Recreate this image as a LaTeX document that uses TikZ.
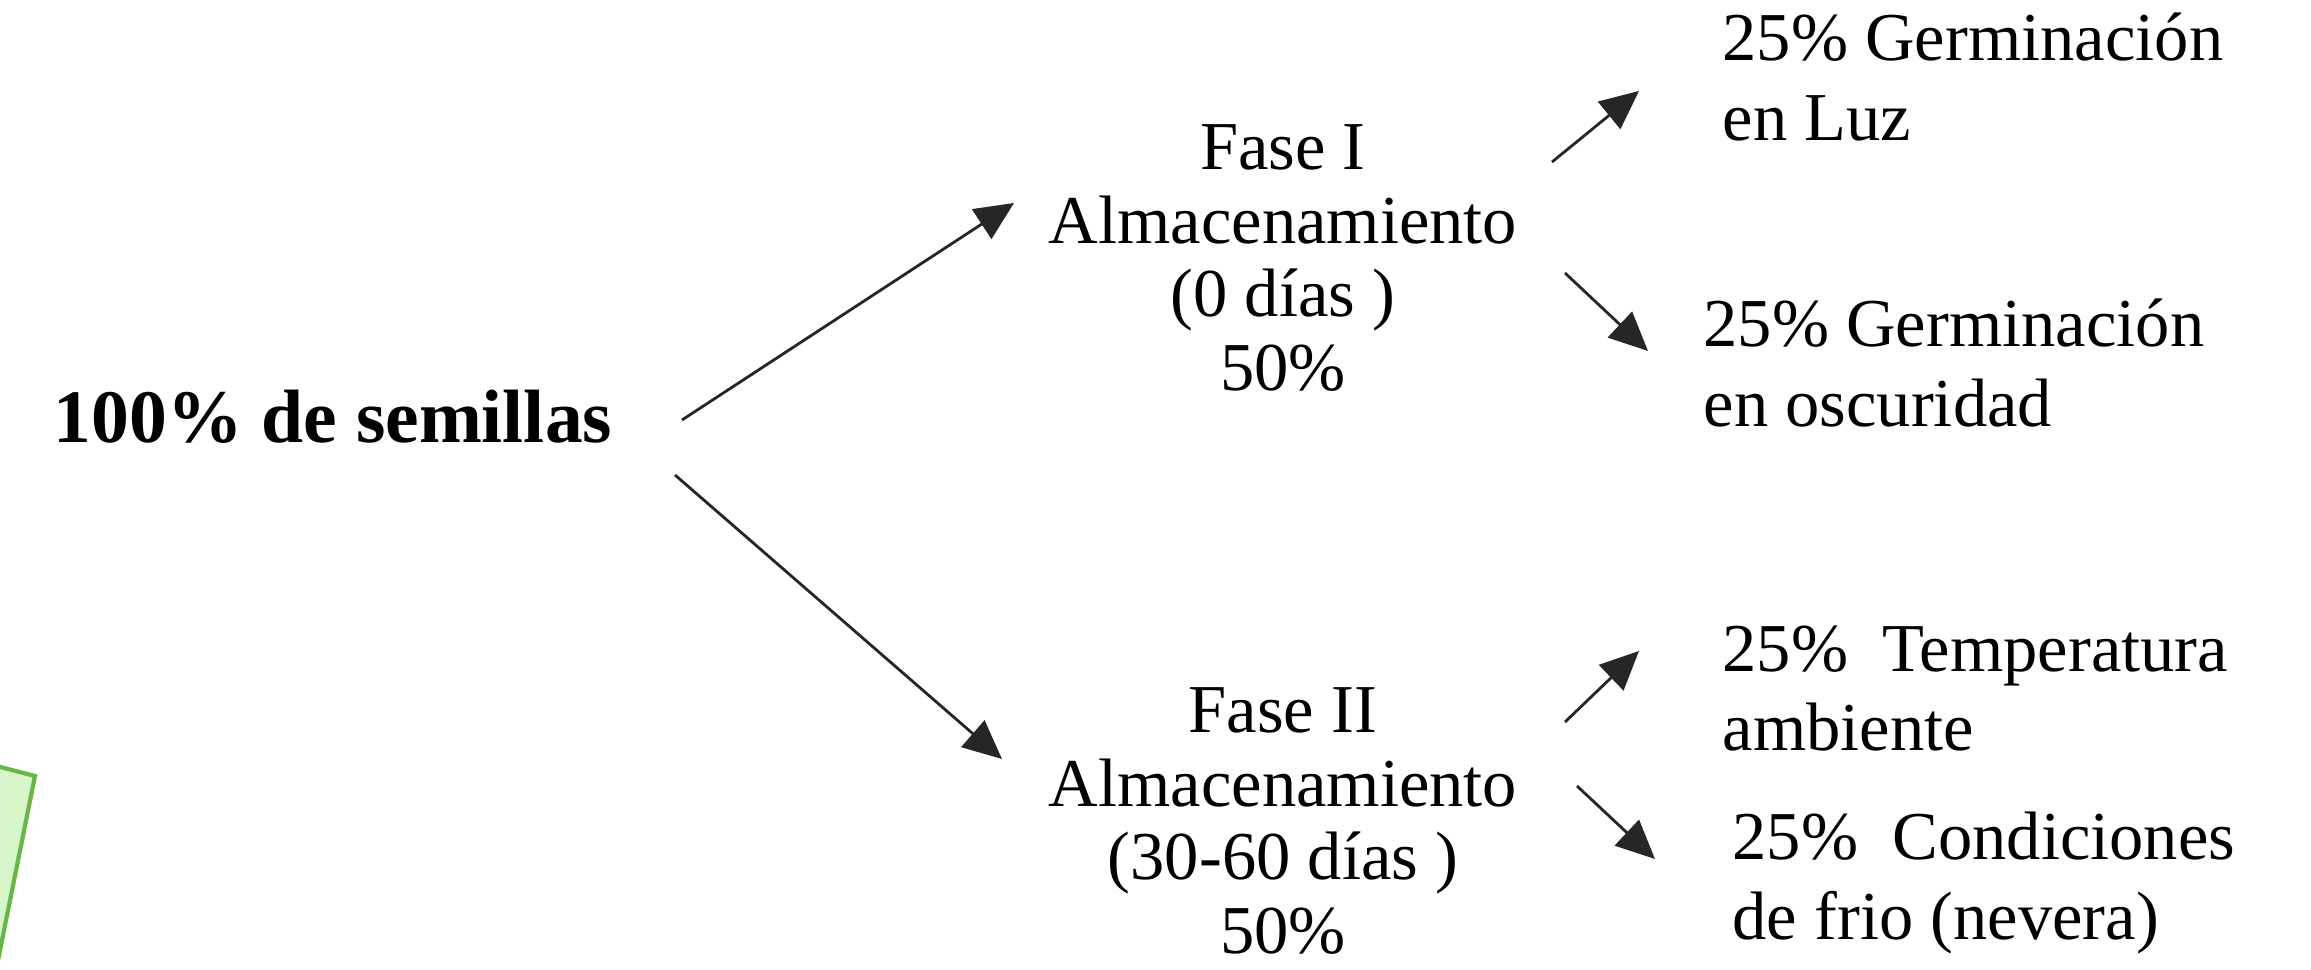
\documentclass[tikz,border=0pt]{standalone}
\usepackage{fontspec}
\setmainfont{Liberation Serif}
\usetikzlibrary{arrows.meta,calc}
\definecolor{boxgreen}{HTML}{D6F5C8}
\definecolor{boxedge}{HTML}{6DB54A}
\begin{document}
\begin{tikzpicture}[
  txt/.style={align=center,inner sep=0pt,font=\fontsize{19.5}{21}\selectfont},
  leaf/.style={align=left,anchor=west,inner sep=0pt,font=\fontsize{19.5}{22.5}\selectfont},
  arr/.style={-{Triangle[length=11pt,width=10pt]},line width=0.8pt,draw=black!85,fill=black}]
\useasboundingbox (0,0) rectangle (23.11,9.70);

\begin{scope}
\clip (0,0) rectangle (23.11,9.70);
\draw[boxedge,fill=boxgreen,line width=1.2pt] (-1,2.29) -- (0.35,1.94) -- (-0.24,-1) -- (-1.5,-1) -- cycle;
\end{scope}

\node[inner sep=0pt,font=\bfseries\fontsize{21.5}{24}\selectfont] (seeds) at (3.33,5.53) {100\% de semillas};

\node[txt] (fase1) at (12.83,7.12) {Fase I\\Almacenamiento\\(0 días )\\50\%};
\node[txt] (fase2) at (12.83,1.49) {Fase II\\Almacenamiento\\(30-60 días )\\50\%};

\node[leaf] (luz) at (17.22,8.93) {25\% Germinación\\en Luz};
\node[leaf] (oscuro) at (17.03,6.07) {25\% Germinación\\en oscuridad};
\node[leaf] (temp) at (17.22,2.81) {25\%~ Temperatura\\ambiente};
\node[leaf] (frio) at (17.32,0.87) {25\%~ Condiciones\\de frio (nevera)};

\draw[arr] ($(seeds)+(3.49,-0.03)$) -- ($(fase1)+(-2.69,0.55)$);
\draw[arr] ($(seeds)+(3.42,-0.58)$) -- ($(fase2)+(-2.81,0.62)$);

\draw[arr] ($(fase1)+(2.69,0.96)$) -- ($(luz.west)+(-0.83,-0.14)$);
\draw[arr] ($(fase1)+(2.82,-0.15)$) -- ($(oscuro.west)+(-0.55,0.12)$);
\draw[arr] ($(fase2)+(2.82,0.99)$) -- ($(temp.west)+(-0.83,0.38)$);
\draw[arr] ($(fase2)+(2.94,0.35)$) -- ($(frio.west)+(-0.77,0.24)$);
\end{tikzpicture}
\end{document}
